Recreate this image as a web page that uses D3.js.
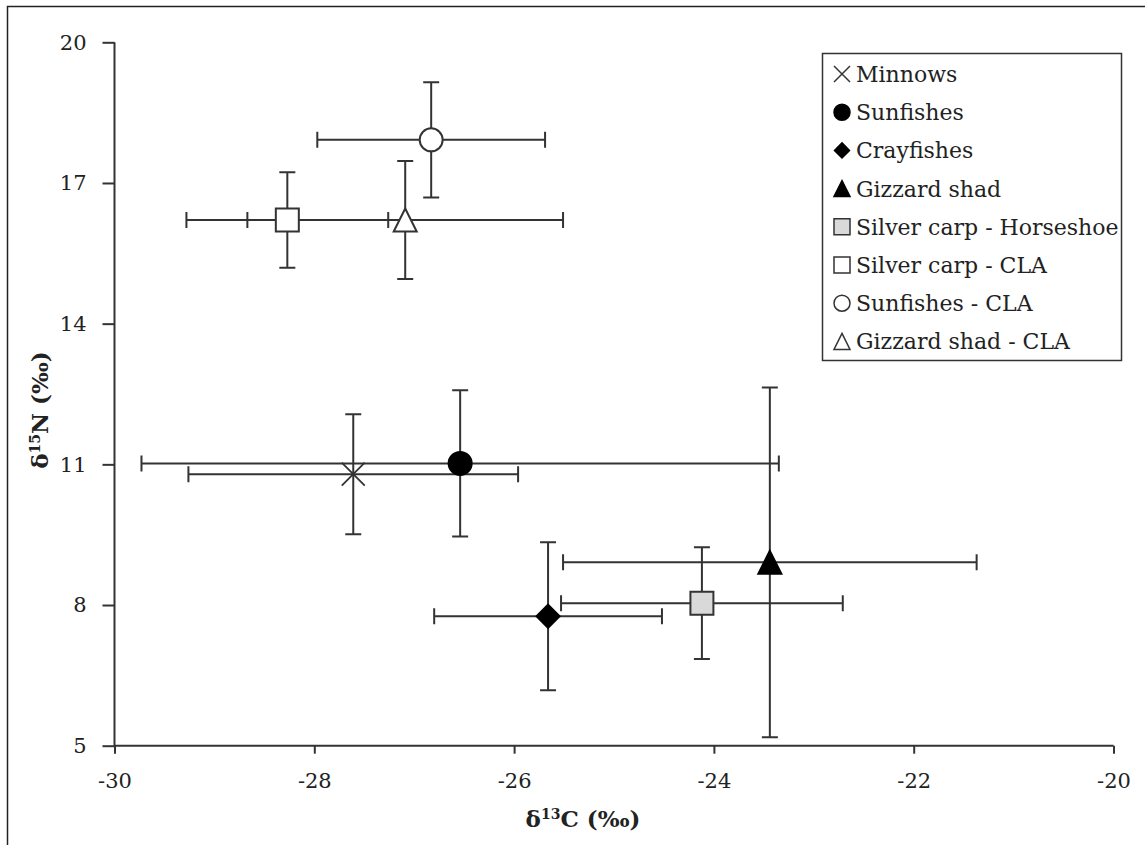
<!DOCTYPE html>
<html>
<head>
<meta charset="utf-8">
<script src="https://cdn.jsdelivr.net/npm/d3@7"></script>
<style>
  body { margin: 0; background: #fff; }
  svg { display: block; }
</style>
</head>
<body>
<div id="chart"></div>
<script>
// data (means and SD)
var groups = ["Minnows", "Sunfishes", "Crayfishes", "Gizzard shad",
              "Silver carp - Horseshoe", "Silver carp - CLA", "Sunfishes - CLA", "Gizzard shad - CLA"];
var carbon = [-27.61, -26.54, -25.66, -23.44, -24.12, -28.27, -26.83, -27.09];
var carbonSD = [1.65, 3.19, 1.14, 2.07, 1.41, 1.01, 1.14, 1.58];
var nitrogen = [10.79, 11.02, 7.76, 8.91, 8.04, 16.21, 17.92, 16.21];
var nitrogenSD = [1.28, 1.56, 1.58, 3.73, 1.19, 1.02, 1.23, 1.26];
var xTicks = [-30, -28, -26, -24, -22, -20];
var yTicks = [5, 8, 11, 14, 17, 20];

// marker look per group
var markerStyle = {
  "Minnows": { shape: "cross", fill: "none" },
  "Sunfishes": { shape: "circle", fill: "#000" },
  "Crayfishes": { shape: "diamond", fill: "#000" },
  "Gizzard shad": { shape: "triangle", fill: "#000" },
  "Silver carp - Horseshoe": { shape: "square", fill: "#d9d9d9" },
  "Silver carp - CLA": { shape: "square", fill: "#fff" },
  "Sunfishes - CLA": { shape: "circle", fill: "#fff" },
  "Gizzard shad - CLA": { shape: "triangle", fill: "#fff" }
};

var data = groups.map(function(g, i) {
  return { name: g, c: carbon[i], cs: carbonSD[i], n: nitrogen[i], ns: nitrogenSD[i] };
});

var W = 1145, H = 845;
var margin = { top: 42.3, right: 31.5, bottom: 99.3, left: 114.5 };
var ink = "#333";
var serif = "'DejaVu Serif', serif";

var svg = d3.select("#chart").append("svg")
  .attr("width", W)
  .attr("height", H);

// frame (only top and left edges visible in the crop)
svg.append("path")
  .attr("d", "M7.5," + H + "V6.5H" + W)
  .attr("fill", "none")
  .attr("stroke", "#222")
  .attr("stroke-width", 1.5);

var x = d3.scaleLinear().domain([-30, -20]).range([margin.left, W - margin.right]);
var y = d3.scaleLinear().domain([5, 20]).range([H - margin.bottom, margin.top]);

// axes (plain hyphen for negatives, like the original)
var gx = svg.append("g")
  .attr("transform", "translate(0," + y(5) + ")")
  .call(d3.axisBottom(x).tickValues(xTicks).tickFormat(function(d) { return String(d); })
          .tickSize(8).tickSizeOuter(0).tickPadding(19));
var gy = svg.append("g")
  .attr("transform", "translate(" + x(-30) + ",0)")
  .call(d3.axisLeft(y).tickValues(yTicks).tickFormat(function(d) { return String(d); })
          .tickSize(12).tickSizeOuter(0).tickPadding(16));

[gx, gy].forEach(function(g) {
  g.selectAll("path, line").attr("stroke", ink).attr("stroke-width", 2);
  g.selectAll("text")
    .attr("fill", "#222")
    .style("font-family", serif)
    .style("font-size", "21px");
});
gx.select(".domain").attr("d", "M" + x(-30) + ",0H" + x(-20));
gy.select(".domain").attr("d", "M0," + y(20) + "V" + y(5));

// axis titles
function axisTitle(sel, sup, rest) {
  sel.attr("text-anchor", "middle")
    .style("font-family", serif)
    .style("font-weight", "bold")
    .style("font-size", "23px")
    .attr("fill", "#222");
  sel.append("tspan").text("\u03B4");
  sel.append("tspan").attr("dy", -8).style("font-size", "14px").text(sup);
  sel.append("tspan").attr("dy", 8).text(rest);
}

axisTitle(svg.append("text").attr("x", 583).attr("y", 827), "13", "C (\u2030)");
axisTitle(svg.append("text").attr("transform", "translate(48,410) rotate(-90)"), "15", "N (\u2030)");

// marker path builder, s = full size in px
function markerPath(shape, s) {
  var h = s / 2, p = d3.path();
  if (shape === "circle") {
    p.moveTo(h, 0); p.arc(0, 0, h, 0, 2 * Math.PI);
  } else if (shape === "square") {
    p.rect(-h, -h, s, s);
  } else if (shape === "diamond") {
    p.moveTo(0, -h); p.lineTo(h, 0); p.lineTo(0, h); p.lineTo(-h, 0); p.closePath();
  } else if (shape === "triangle") {
    p.moveTo(0, -h); p.lineTo(h, h); p.lineTo(-h, h); p.closePath();
  } else if (shape === "cross") {
    p.moveTo(-h, -h); p.lineTo(h, h); p.moveTo(h, -h); p.lineTo(-h, h);
  }
  return p.toString();
}

// error bars
var cap = 8;
var bars = svg.append("g")
  .attr("stroke", ink)
  .attr("stroke-width", 2)
  .attr("fill", "none");

bars.selectAll(".ebar")
  .data(data)
  .enter().append("path")
  .attr("class", "ebar")
  .attr("d", function(d) {
    var cx = x(d.c), cy = y(d.n);
    var x0 = x(d.c - d.cs), x1 = x(d.c + d.cs);
    var y0 = y(d.n - d.ns), y1 = y(d.n + d.ns);
    return "M" + x0 + "," + cy + "H" + x1 +
           "M" + x0 + "," + (cy - cap) + "V" + (cy + cap) +
           "M" + x1 + "," + (cy - cap) + "V" + (cy + cap) +
           "M" + cx + "," + y0 + "V" + y1 +
           "M" + (cx - cap) + "," + y0 + "H" + (cx + cap) +
           "M" + (cx - cap) + "," + y1 + "H" + (cx + cap);
  });

// markers
svg.selectAll(".marker")
  .data(data)
  .enter().append("path")
  .attr("class", "marker")
  .attr("transform", function(d) { return "translate(" + x(d.c) + "," + y(d.n) + ")"; })
  .attr("d", function(d) { return markerPath(markerStyle[d.name].shape, 23); })
  .attr("fill", function(d) { return markerStyle[d.name].fill; })
  .attr("stroke", function(d) { return markerStyle[d.name].fill === "#000" ? "#000" : ink; })
  .attr("stroke-width", function(d) { return markerStyle[d.name].shape === "cross" ? 1.8 : 2; });

// legend
var legend = svg.append("g");
legend.append("rect")
  .attr("x", 822.5)
  .attr("y", 53.5)
  .attr("width", 299)
  .attr("height", 307)
  .attr("fill", "#fff")
  .attr("stroke", ink)
  .attr("stroke-width", 1.5);

var rows = legend.selectAll(".row")
  .data(data)
  .enter().append("g")
  .attr("class", "row")
  .attr("transform", function(d, i) { return "translate(842," + (74 + i * 38.2) + ")"; });

rows.append("path")
  .attr("d", function(d) {
    var st = markerStyle[d.name].shape;
    return markerPath(st, st === "diamond" ? 15 : 16);
  })
  .attr("fill", function(d) { return markerStyle[d.name].fill; })
  .attr("stroke", function(d) { return markerStyle[d.name].fill === "#000" ? "#000" : ink; })
  .attr("stroke-width", 1.5);

rows.append("text")
  .attr("x", 14)
  .attr("y", 8)
  .attr("fill", "#222")
  .style("font-family", serif)
  .style("font-size", "22px")
  .text(function(d) { return d.name; });
</script>
</body>
</html>
